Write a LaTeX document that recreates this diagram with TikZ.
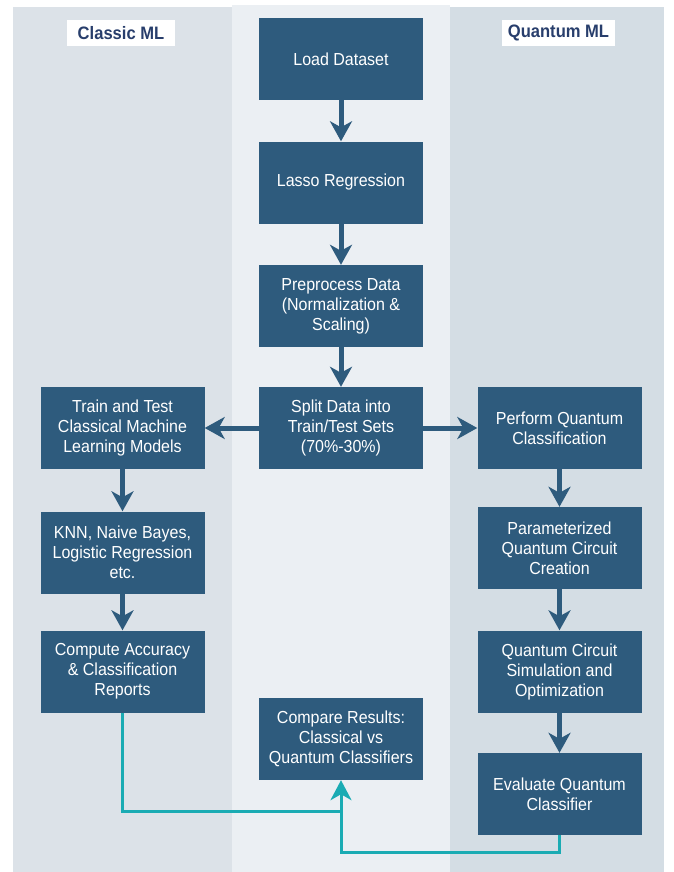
\documentclass[tikz,border=0pt]{standalone}
\usepackage{fontspec}
\setmainfont{Liberation Sans}[FakeStretch=0.92]
\usetikzlibrary{arrows.meta}
\definecolor{boxblue}{HTML}{2E5B7D}
\definecolor{headblue}{HTML}{283E6C}
\definecolor{panelL}{HTML}{DCE2E8}
\definecolor{panelM}{HTML}{EBEFF3}
\definecolor{panelR}{HTML}{D4DDE4}
\definecolor{tealline}{HTML}{1AABB3}
\tikzset{
  stepbox/.style={fill=boxblue, text=white, minimum width=164pt, minimum height=82pt,
    inner sep=0pt, align=center, font=\fontsize{17.4}{20}\selectfont},
  headbox/.style={fill=white, text=headblue, inner sep=0pt, minimum height=26pt,
    font=\fontsize{18}{20}\selectfont\bfseries},
  flow/.style={draw=boxblue, line width=5pt, -{Stealth[length=20pt,width=22pt,inset=6pt]}},
  tflow/.style={draw=tealline, line width=3pt},
  tarrow/.style={draw=tealline, line width=3pt, -{Stealth[length=20pt,width=21pt,inset=6pt]}}
}
\begin{document}
\begin{tikzpicture}[x=1pt,y=-1pt]
\useasboundingbox (0,0) rectangle (673,872);
\fill[white] (0,0) rectangle (673,872);
% panels
\fill[panelL] (13,7) rectangle (232,872);
\fill[panelM] (232,5) rectangle (450,872);
\fill[panelR] (450,7) rectangle (664,872);
% headers
\node[headbox, minimum width=108pt] (hcl) at (121,33.5) {Classic ML};
\node[headbox, minimum width=113pt] (hqm) at (558.5,33) {Quantum ML};
% centre column
\node[stepbox] (load) at (341,59) {Load Dataset};
\node[stepbox] (lasso) at (341,182.5) {Lasso Regression};
\node[stepbox] (prep) at (341,306) {Preprocess Data\\(Normalization \&\\Scaling)};
\node[stepbox] (split) at (341,428) {Split Data into\\Train/Test Sets\\(70\%-30\%)};
% left column
\node[stepbox] (train) at (122.5,428) {Train and Test\\Classical Machine\\Learning Models};
\node[stepbox] (knn) at (122.5,552.5) {KNN, Naive Bayes,\\Logistic Regression\\etc.};
\node[stepbox] (comp) at (122.5,671.5) {Compute Accuracy\\\& Classification\\Reports};
% right column
\node[stepbox] (perf) at (559.5,428) {Perform Quantum\\Classification};
\node[stepbox] (param) at (559.5,548) {Parameterized\\Quantum Circuit\\Creation};
\node[stepbox] (sim) at (559.5,671.5) {Quantum Circuit\\Simulation and\\Optimization};
\node[stepbox] (eval) at (559.5,794) {Evaluate Quantum\\Classifier};
% compare
\node[stepbox] (cmp) at (341,739) {Compare Results:\\Classical vs\\Quantum Classifiers};
% arrows
\draw[flow] (load) -- (lasso);
\draw[flow] (lasso) -- (prep);
\draw[flow] (prep) -- (split);
\draw[flow] (split) -- (train);
\draw[flow] (split) -- (perf);
\draw[flow] (train) -- (knn);
\draw[flow] (knn) -- (comp);
\draw[flow] (perf) -- (param);
\draw[flow] (param) -- (sim);
\draw[flow] (sim) -- (eval);
% teal connectors
\coordinate (jl) at (341,811);
\coordinate (jr) at (341,852);
\draw[tflow, line join=miter] (comp.south) |- (jl);
\draw[tarrow, line join=miter] (eval.south) |- (jr) -- (cmp.south);
\end{tikzpicture}
\end{document}
